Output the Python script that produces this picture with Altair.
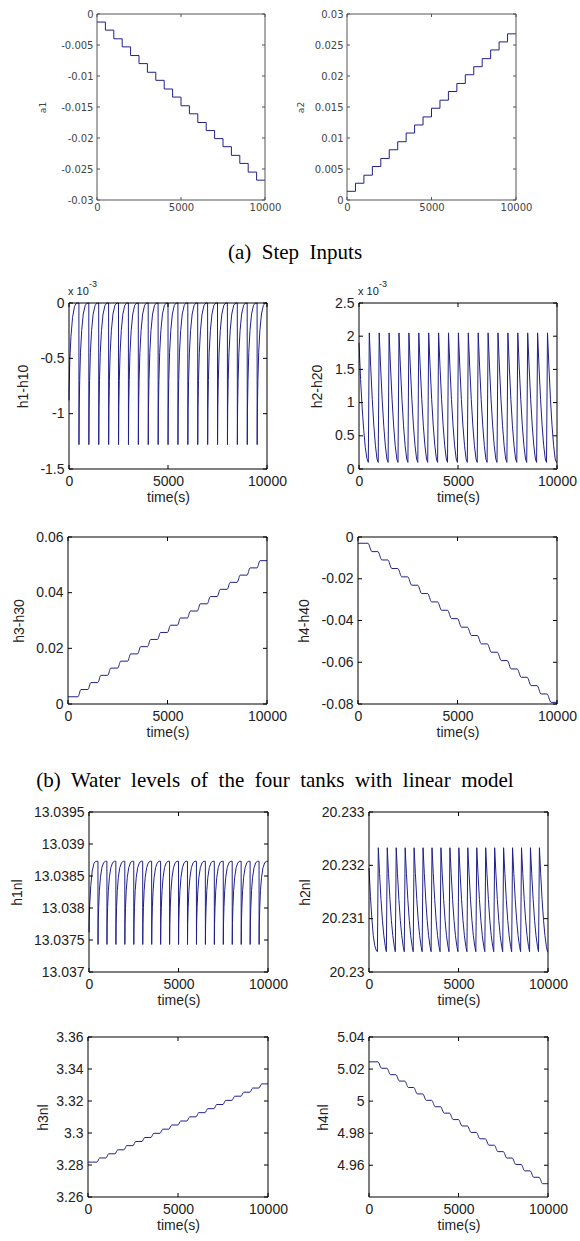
import altair as alt
import pandas as pd

# ---------------- data ----------------
STEP_T = [0, 500, 1000, 1500, 2000, 2500, 3000, 3500, 4000, 4500,
          5000, 5500, 6000, 6500, 7000, 7500, 8000, 8500, 9000, 9500]
X_TICKS = [0, 5000, 10000]

# (a) step inputs
A1_LEVELS = [-0.0013, -0.0026, -0.0040, -0.0053, -0.0067, -0.0080, -0.0094, -0.0107,
             -0.0121, -0.0134, -0.0148, -0.0161, -0.0175, -0.0188, -0.0201, -0.0214,
             -0.0228, -0.0241, -0.0255, -0.0268]
A2_LEVELS = [0.0014, 0.0027, 0.0040, 0.0054, 0.0067, 0.0081, 0.0094, 0.0108,
             0.0121, 0.0134, 0.0148, 0.0161, 0.0175, 0.0188, 0.0202, 0.0215,
             0.0228, 0.0242, 0.0255, 0.0268]

# (b) linear model (h1, h2 in units of 1e-3)
H1_FIRST_T = [0, 10, 40, 100, 180, 280, 380]
H1_FIRST_V = [-0.88, -0.75, -0.52, -0.30, -0.13, -0.03, 0.0]
H1_CYCLE_DT = [0, 3, 15, 40, 80, 140, 220, 320, 420]
H1_CYCLE_V = [0.0, -1.28, -0.95, -0.70, -0.45, -0.25, -0.10, -0.02, 0.0]

H2_FIRST_T = [0, 80, 160, 240, 320, 400]
H2_FIRST_V = [1.90, 1.35, 0.92, 0.58, 0.32, 0.16]
H2_CYCLE_DT = [-30, 20, 90, 170, 250, 330, 410, 470]
H2_CYCLE_V = [0.10, 2.05, 1.55, 1.05, 0.65, 0.35, 0.15, 0.10]

H3_LEVELS = [0.0026, 0.0052, 0.0077, 0.0103, 0.0129, 0.0154, 0.0180, 0.0206, 0.0232, 0.0257,
             0.0283, 0.0309, 0.0334, 0.0360, 0.0386, 0.0412, 0.0437, 0.0463, 0.0489, 0.0515]
H4_LEVELS = [-0.0030, -0.0070, -0.0110, -0.0151, -0.0191, -0.0231, -0.0271, -0.0311, -0.0351, -0.0391,
             -0.0432, -0.0472, -0.0512, -0.0552, -0.0592, -0.0632, -0.0672, -0.0712, -0.0752, -0.0792]

# (c) nonlinear model
H1NL_FIRST_T = [0, 10, 40, 100, 180, 280, 380]
H1NL_FIRST_V = [13.03762, 13.03780, 13.03805, 13.03835, 13.03858, 13.03870, 13.03873]
H1NL_CYCLE_V = [13.03873, 13.03743, 13.03776, 13.03801, 13.03827, 13.03848, 13.03863, 13.03871, 13.03873]

H2NL_FIRST_T = [0, 80, 160, 240, 320, 400]
H2NL_FIRST_V = [20.23195, 20.23142, 20.23100, 20.23068, 20.23050, 20.23041]
H2NL_CYCLE_V = [20.23038, 20.23233, 20.23185, 20.23136, 20.23097, 20.23068, 20.23048, 20.23038]

H3NL_LEVELS = [3.2818, 3.2844, 3.2870, 3.2895, 3.2921, 3.2947, 3.2972, 3.2998, 3.3024, 3.3050,
               3.3075, 3.3101, 3.3127, 3.3152, 3.3178, 3.3204, 3.3230, 3.3255, 3.3281, 3.3307]
H4NL_LEVELS = [5.0245, 5.0205, 5.0165, 5.0125, 5.0085, 5.0045, 5.0005, 4.9965, 4.9925, 4.9885,
               4.9845, 4.9805, 4.9765, 4.9725, 4.9685, 4.9645, 4.9605, 4.9565, 4.9525, 4.9485]

LINE_COLOR = "#20208a"
LABEL_EXPR = "replace(format(datum.value, '~g'), '\u2212', '-')"
FIG_W, FIG_H = 580, 1241


# ---------------- series builders ----------------
def step_series(levels):
    return STEP_T + [10000], levels + [levels[-1]]


def stair_series(levels, rise):
    t, v = [0], [levels[0]]
    for k in range(1, len(levels)):
        T = STEP_T[k]
        t += [T, T + rise]
        v += [levels[k - 1], levels[k]]
    t.append(10000)
    v.append(levels[-1])
    return t, v


def cycle_series(first_t, first_v, dts, vals):
    t, v = list(first_t), list(first_v)
    for T in STEP_T[1:]:
        t += [T + d for d in dts]
        v += list(vals)
    t.append(10000)
    v.append(vals[-1])
    return t, v


STYLE_A = dict(font="DejaVu Sans", fs=10, color="#444444", frame="#555555", tick=3,
               lpad_y=4, lpad_x=2, tfs=9, tpad=3)
STYLE_B = dict(font="Liberation Sans", fs=14, color="#222222", frame="#000000", tick=4,
               lpad_y=5, lpad_x=5, tfs=14, tpad=2)


def panel(series, rect, ydom, yticks, ytitle, titleX, st, xtitle="",
          interp="linear", sci=False):
    """rect = (left, top, right, bottom) of the plot area in figure pixels."""
    x0, y0, x1, y1 = rect
    t, v = series
    df = pd.DataFrame({"t": t, "v": v})
    xs = alt.Scale(domain=[0, 10000], range=[x0, x1], nice=False, zero=False)
    ys = alt.Scale(domain=ydom, range=[y1, y0], nice=False, zero=False)
    common = dict(labelFont=st["font"], labelFontSize=st["fs"], labelColor=st["color"],
                  titleFont=st["font"], titleFontSize=st["tfs"], titleColor=st["color"],
                  titleFontWeight="normal", ticks=False, domain=False, grid=False,
                  labelFlush=False, labelOverlap=False, labelExpr=LABEL_EXPR)
    xaxis = alt.Axis(values=X_TICKS, title=xtitle, orient="bottom", offset=y1 - FIG_H,
                     labelPadding=st["lpad_x"], titlePadding=st["tpad"], **common)
    yaxis = alt.Axis(values=yticks, title=ytitle, orient="left", offset=-x0,
                     labelPadding=st["lpad_y"],
                     titleX=titleX, titleY=(y0 + y1) / 2, titleAlign="center",
                     titleBaseline="bottom", titleAngle=270, **common)

    def X(field="t"):
        return alt.X(field + ":Q", scale=xs, axis=xaxis)

    def Y(field="v"):
        return alt.Y(field + ":Q", scale=ys, axis=yaxis)

    line = alt.Chart(df).mark_line(color=LINE_COLOR, strokeWidth=1, interpolate=interp).encode(
        x=X(), y=Y())
    fc = st["frame"]
    box = pd.DataFrame({"t": [0], "t2": [10000], "v": [ydom[0]], "v2": [ydom[1]]})
    frame = alt.Chart(box).mark_rect(filled=False, stroke=fc, strokeWidth=1).encode(
        x=X(), x2="t2:Q", y=Y(), y2="v2:Q")
    L = st["tick"]
    xt = pd.DataFrame({"t": X_TICKS})
    yt = pd.DataFrame({"v": yticks})
    xb = alt.Chart(xt).mark_rule(color=fc, strokeWidth=1).encode(
        x=X(), y=alt.value(y1), y2=alt.value(y1 - L))
    xtop = alt.Chart(xt).mark_rule(color=fc, strokeWidth=1).encode(
        x=X(), y=alt.value(y0), y2=alt.value(y0 + L))
    yl = alt.Chart(yt).mark_rule(color=fc, strokeWidth=1).encode(
        y=Y(), x=alt.value(x0), x2=alt.value(x0 + L))
    yr = alt.Chart(yt).mark_rule(color=fc, strokeWidth=1).encode(
        y=Y(), x=alt.value(x1), x2=alt.value(x1 - L))
    layers = [line, frame, xb, xtop, yl, yr]
    if sci:
        one = pd.DataFrame({"s": ["x 10"]})
        layers.append(alt.Chart(one).mark_text(font=st["font"], fontSize=11, color=st["color"],
                                               align="left", baseline="middle").encode(
            x=alt.value(x0 - 1), y=alt.value(y0 - 11), text="s:N"))
        one2 = pd.DataFrame({"s": ["-3"]})
        layers.append(alt.Chart(one2).mark_text(font=st["font"], fontSize=9, color=st["color"],
                                                align="left", baseline="middle").encode(
            x=alt.value(x0 + 20), y=alt.value(y0 - 19), text="s:N"))
    return alt.layer(*layers)


def caption(text, cx, base):
    return alt.Chart(pd.DataFrame({"s": [text]})).mark_text(
        font="Liberation Serif", fontSize=21, color="#000000", align="center",
        baseline="alphabetic").encode(x=alt.value(cx), y=alt.value(base), text="s:N")


# ---------------- panels ----------------
pa1 = panel(step_series(A1_LEVELS), (97, 14, 265, 200), [-0.03, 0],
            [-0.03, -0.025, -0.02, -0.015, -0.01, -0.005, 0], "a1", -50, STYLE_A,
            interp="step-after")
pa2 = panel(step_series(A2_LEVELS), (347, 14, 516, 200), [0, 0.03],
            [0, 0.005, 0.01, 0.015, 0.02, 0.025, 0.03], "a2", -42, STYLE_A,
            interp="step-after")

pb1 = panel(cycle_series(H1_FIRST_T, H1_FIRST_V, H1_CYCLE_DT, H1_CYCLE_V),
            (69, 303, 267, 469), [-1.5, 0], [-1.5, -1, -0.5, 0], "h1-h10", -39, STYLE_B,
            "time(s)", sci=True)
pb2 = panel(cycle_series(H2_FIRST_T, H2_FIRST_V, H2_CYCLE_DT, H2_CYCLE_V),
            (359, 303, 557, 469), [0, 2.5], [0, 0.5, 1, 1.5, 2, 2.5], "h2-h20", -35, STYLE_B,
            "time(s)", sci=True)
pb3 = panel(stair_series(H3_LEVELS, 150), (68, 537, 267, 704), [0, 0.06],
            [0, 0.02, 0.04, 0.06], "h3-h30", -42, STYLE_B, "time(s)", interp="monotone")
pb4 = panel(stair_series(H4_LEVELS, 200), (358, 537, 557, 704), [-0.08, 0],
            [-0.08, -0.06, -0.04, -0.02, 0], "h4-h40", -47, STYLE_B, "time(s)",
            interp="monotone")

pc1 = panel(cycle_series(H1NL_FIRST_T, H1NL_FIRST_V, H1_CYCLE_DT, H1NL_CYCLE_V),
            (89, 812, 268, 972), [13.037, 13.0395],
            [13.037, 13.0375, 13.038, 13.0385, 13.039, 13.0395], "h1nl", -65, STYLE_B, "time(s)")
pc2 = panel(cycle_series(H2NL_FIRST_T, H2NL_FIRST_V, H2_CYCLE_DT, H2NL_CYCLE_V),
            (369, 812, 548, 972), [20.23, 20.233], [20.23, 20.231, 20.232, 20.233],
            "h2nl", -57, STYLE_B, "time(s)")
pc3 = panel(stair_series(H3NL_LEVELS, 150), (88, 1037, 268, 1197), [3.26, 3.36],
            [3.26, 3.28, 3.3, 3.32, 3.34, 3.36], "h3nl", -38, STYLE_B, "time(s)",
            interp="monotone")
pc4 = panel(stair_series(H4NL_LEVELS, 200), (369, 1037, 548, 1197), [4.9402, 5.04],
            [4.96, 4.98, 5, 5.02, 5.04], "h4nl", -39, STYLE_B, "time(s)",
            interp="monotone")

cap_a = caption("(a)\u00a0 Step\u00a0 Inputs", 295, 259)
cap_b_words = ["(b)", "Water", "levels", "of", "the", "four", "tanks", "with", "linear", "model"]
cap_b = caption("\u00a0 ".join(cap_b_words), 275, 787)

chart = alt.layer(
    pa1, pa2, pb1, pb2, pb3, pb4, pc1, pc2, pc3, pc4, cap_a, cap_b,
).resolve_scale(x="independent", y="independent").resolve_axis(
    x="independent", y="independent"
).properties(
    width=FIG_W, height=FIG_H, padding=0, background="#ffffff",
    autosize=alt.AutoSizeParams(type="none"),
).configure_view(stroke="transparent").configure_axis(labelOverlap=False)

chart.save("out.html", embed_options={"renderer": "svg", "actions": False})
